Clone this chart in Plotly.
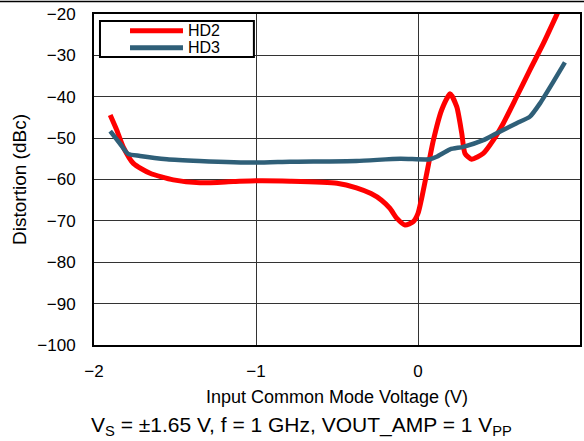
import plotly.graph_objects as go

hd2_x = [-1.90, -1.86, -1.82, -1.757, -1.654, -1.51, -1.346, -1.14, -1.0, -0.79, -0.50, -0.38, -0.29,
         -0.225, -0.173, -0.13, -0.08, -0.029, 0.0, 0.02, 0.054, 0.095, 0.146, 0.198, 0.239, 0.27,
         0.29, 0.331, 0.403, 0.465, 0.527, 0.609, 0.691, 0.774, 0.856, 0.87]
hd2_y = [-44.4, -48.0, -52.1, -56.1, -58.5, -60.1, -60.8, -60.5, -60.3, -60.4, -60.9, -62.0, -63.4,
         -65.0, -67.0, -69.4, -71.0, -70.2, -68.2, -65.0, -58.5, -50.5, -43.2, -39.3, -42.4, -48.8,
         -53.7, -55.1, -53.7, -50.5, -46.4, -40.0, -33.5, -27.1, -20.2, -19.0]

hd3_x = [-1.90, -1.84, -1.79, -1.716, -1.55, -1.35, -1.0, -0.79, -0.38, -0.11, 0.074, 0.115, 0.198,
         0.28, 0.403, 0.486, 0.609, 0.691, 0.753, 0.835, 0.907]
hd3_y = [-48.3, -51.3, -53.8, -54.3, -55.1, -55.5, -55.9, -55.7, -55.5, -55.0, -55.1, -54.5, -52.7,
         -52.1, -50.5, -48.8, -46.4, -44.8, -41.6, -36.4, -31.7]

series_names = ["HD2", "HD3"]
series_colors = ["#FF0000", "#2F5F78"]

x_ticks = [-2, -1, 0, 1]
y_ticks = [-100, -90, -80, -70, -60, -50, -40, -30, -20]

FONT = "Liberation Sans, Arial, sans-serif"

fig = go.Figure()
fig.add_trace(go.Scatter(x=hd2_x, y=hd2_y, name=series_names[0], mode="lines", showlegend=False,
                         line=dict(color=series_colors[0], width=5, shape="spline", smoothing=0.6)))
fig.add_trace(go.Scatter(x=hd3_x, y=hd3_y, name=series_names[1], mode="lines", showlegend=False,
                         line=dict(color=series_colors[1], width=4.5, shape="spline", smoothing=0.6)))

# custom legend (box, samples, labels) in paper coordinates
shapes = [
    dict(type="rect", xref="paper", yref="paper", x0=0.0123, x1=0.329, y0=0.870, y1=0.979,
         line=dict(color="black", width=2), fillcolor="white", layer="above"),
    dict(type="line", xref="paper", yref="paper", x0=-0.2, x1=1.01, y0=1.0378, y1=1.0378,
         line=dict(color="black", width=1.5)),
]
annotations = []
for i, (nm, col) in enumerate(zip(series_names, series_colors)):
    yy = [0.9496, 0.898][i]
    shapes.append(dict(type="line", xref="paper", yref="paper", x0=0.0741, x1=0.1831, y0=yy, y1=yy,
                       line=dict(color=col, width=5), layer="above"))
    annotations.append(dict(text=nm, xref="paper", yref="paper", x=0.189, y=yy, xanchor="left",
                            yanchor="middle", showarrow=False, font=dict(size=16)))

annotations.append(dict(text="V<sub>S</sub> = ±1.65 V, f = 1 GHz, VOUT_AMP = 1 V<sub>PP</sub>",
                        xref="paper", yref="paper", x=0.426, y=-0.245, xanchor="center", yanchor="middle",
                        showarrow=False, font=dict(size=21)))

fig.update_layout(
    width=584, height=441,
    margin=dict(l=94, r=4, t=14, b=96),
    paper_bgcolor="white", plot_bgcolor="white",
    font=dict(family=FONT, size=17, color="black"),
    showlegend=False,
    xaxis=dict(range=[-2, 1], tickvals=x_ticks, showgrid=True, gridcolor="#333333", gridwidth=1,
               showline=True, linecolor="black", linewidth=2, mirror=True, zeroline=False,
               ticks="", ticklabelstandoff=10, tickfont=dict(size=17), automargin=False,
               title=dict(text="Input Common Mode Voltage (V)", font=dict(size=18), standoff=10)),
    yaxis=dict(range=[-100, -20], tickvals=y_ticks, showgrid=True, gridcolor="#333333", gridwidth=1,
               showline=True, linecolor="black", linewidth=2, mirror=True, zeroline=False,
               ticks="", ticklabelstandoff=13, tickfont=dict(size=17), automargin=False,
               title=dict(text="Distortion (dBc)", font=dict(size=19), standoff=6)),
    annotations=annotations,
    shapes=shapes,
)

fig.write_html("out.html", config={"displayModeBar": False},
               post_script="document.body.style.margin='0';document.body.style.overflow='hidden';")
